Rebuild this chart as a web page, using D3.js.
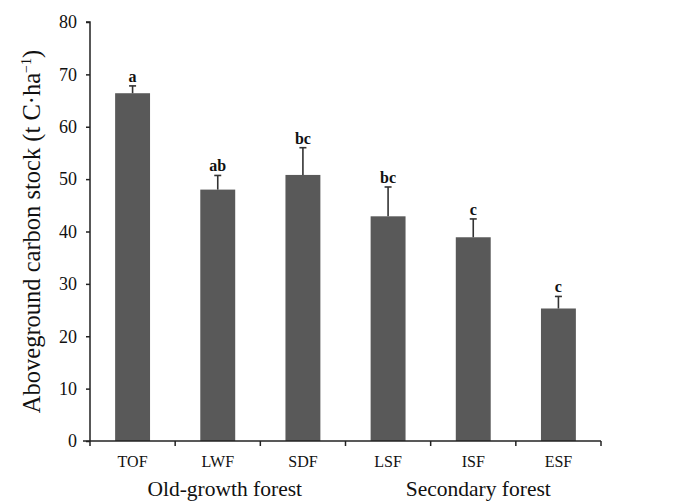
<!DOCTYPE html>
<html>
<head>
<meta charset="utf-8">
<script src="https://cdn.jsdelivr.net/npm/d3@7"></script>
<style>
  body { margin: 0; background: #fff; }
  text { font-family: "Liberation Serif", "Times New Roman", serif; fill: #111; }
</style>
</head>
<body>
<div id="chart"></div>
<script>
// data
const sites = ["TOF", "LWF", "SDF", "LSF", "ISF", "ESF"];
const carbon = [66.4, 48.0, 50.8, 42.9, 38.9, 25.3];
const errors = [1.4, 2.7, 5.2, 5.6, 3.5, 2.3];
const letters = ["a", "ab", "bc", "bc", "c", "c"];
const groups = ["Old-growth forest", "Secondary forest"];
const groupMembers = [["TOF", "LWF", "SDF"], ["LSF", "ISF", "ESF"]];
const yTicks = [0, 10, 20, 30, 40, 50, 60, 70, 80];

const width = 684,
  height = 503,
  margin = { top: 22, right: 83, bottom: 62, left: 90 };

const data = sites.map((s, i) => ({ site: s, value: carbon[i], err: errors[i], letter: letters[i] }));

const svg = d3.select("#chart")
  .append("svg")
  .attr("width", width)
  .attr("height", height);

const xScale = d3.scaleBand()
  .domain(sites)
  .range([margin.left, width - margin.right])
  .paddingInner(0.59)
  .paddingOuter(0.295);

const yScale = d3.scaleLinear()
  .domain([0, 80])
  .range([height - margin.bottom, margin.top]);

// bars
svg.selectAll("rect.bar")
  .data(data)
  .join("rect")
  .attr("class", "bar")
  .attr("x", d => xScale(d.site))
  .attr("width", xScale.bandwidth())
  .attr("y", d => yScale(d.value))
  .attr("height", d => yScale(0) - yScale(d.value))
  .attr("fill", "#595959");

// error bars (upper half only)
const eb = svg.selectAll("g.err")
  .data(data)
  .join("g")
  .attr("class", "err")
  .attr("stroke", "#333")
  .attr("stroke-width", 1.6);

eb.append("line")
  .attr("x1", d => xScale(d.site) + xScale.bandwidth() / 2)
  .attr("x2", d => xScale(d.site) + xScale.bandwidth() / 2)
  .attr("y1", d => yScale(d.value))
  .attr("y2", d => yScale(d.value + d.err));

eb.append("line")
  .attr("x1", d => xScale(d.site) + xScale.bandwidth() / 2 - 3.5)
  .attr("x2", d => xScale(d.site) + xScale.bandwidth() / 2 + 3.5)
  .attr("y1", d => yScale(d.value + d.err))
  .attr("y2", d => yScale(d.value + d.err));

// significance letters
svg.selectAll("text.sig")
  .data(data)
  .join("text")
  .attr("class", "sig")
  .attr("x", d => xScale(d.site) + xScale.bandwidth() / 2)
  .attr("y", d => yScale(d.value + d.err) - 4)
  .attr("text-anchor", "middle")
  .attr("font-size", 16)
  .attr("font-weight", "bold")
  .text(d => d.letter);

// y axis
const yAxis = d3.axisLeft(yScale).tickValues(yTicks).tickSize(4).tickPadding(9);
svg.append("g")
  .attr("class", "axis y-axis")
  .attr("transform", `translate(${margin.left},0)`)
  .call(yAxis)
  .call(g => g.select(".domain").attr("d", `M-4,${yScale(80)}H0V${yScale(0)}`))
  .call(g => g.selectAll("text").attr("font-size", 18).style("font-family", "Liberation Serif"));

// x axis with ticks at band edges
const xEdges = sites.map(s => xScale(s) - xScale.step() * xScale.paddingInner() / 2);
xEdges.push(width - margin.right);
const xg = svg.append("g")
  .attr("class", "axis x-axis")
  .attr("stroke", "#222")
  .attr("stroke-width", 1.5);
xg.append("line")
  .attr("x1", margin.left - 7)
  .attr("x2", width - margin.right)
  .attr("y1", yScale(0))
  .attr("y2", yScale(0));
xg.selectAll("line.tick")
  .data(xEdges)
  .join("line")
  .attr("class", "tick")
  .attr("x1", d => d)
  .attr("x2", d => d)
  .attr("y1", yScale(0))
  .attr("y2", yScale(0) + 5);

svg.selectAll("text.xlab")
  .data(sites)
  .join("text")
  .attr("class", "xlab")
  .attr("x", d => xScale(d) + xScale.bandwidth() / 2)
  .attr("y", yScale(0) + 26)
  .attr("text-anchor", "middle")
  .attr("font-size", 16)
  .text(d => d);

// group labels
const groupShift = [7, 5];
svg.selectAll("text.group")
  .data(groups)
  .join("text")
  .attr("class", "group")
  .attr("x", (d, i) => {
    const m = groupMembers[i];
    return (xScale(m[0]) + xScale(m[m.length - 1]) + xScale.bandwidth()) / 2 + groupShift[i];
  })
  .attr("y", yScale(0) + 55)
  .attr("text-anchor", "middle")
  .attr("font-size", 21.5)
  .text(d => d);

// y axis title
const yTitle = svg.append("text")
  .attr("transform", `translate(40,${(yScale(0) + yScale(80)) / 2}) rotate(-90)`)
  .attr("text-anchor", "middle")
  .attr("font-size", 24.5);
yTitle.append("tspan").text("Aboveground carbon stock (t C·ha");
yTitle.append("tspan").attr("dy", -9).attr("font-size", 14).text("−1");
yTitle.append("tspan").attr("dy", 9).text(")");

svg.selectAll(".y-axis line, .y-axis path").attr("stroke", "#222").attr("stroke-width", 1.5);
</script>
</body>
</html>
